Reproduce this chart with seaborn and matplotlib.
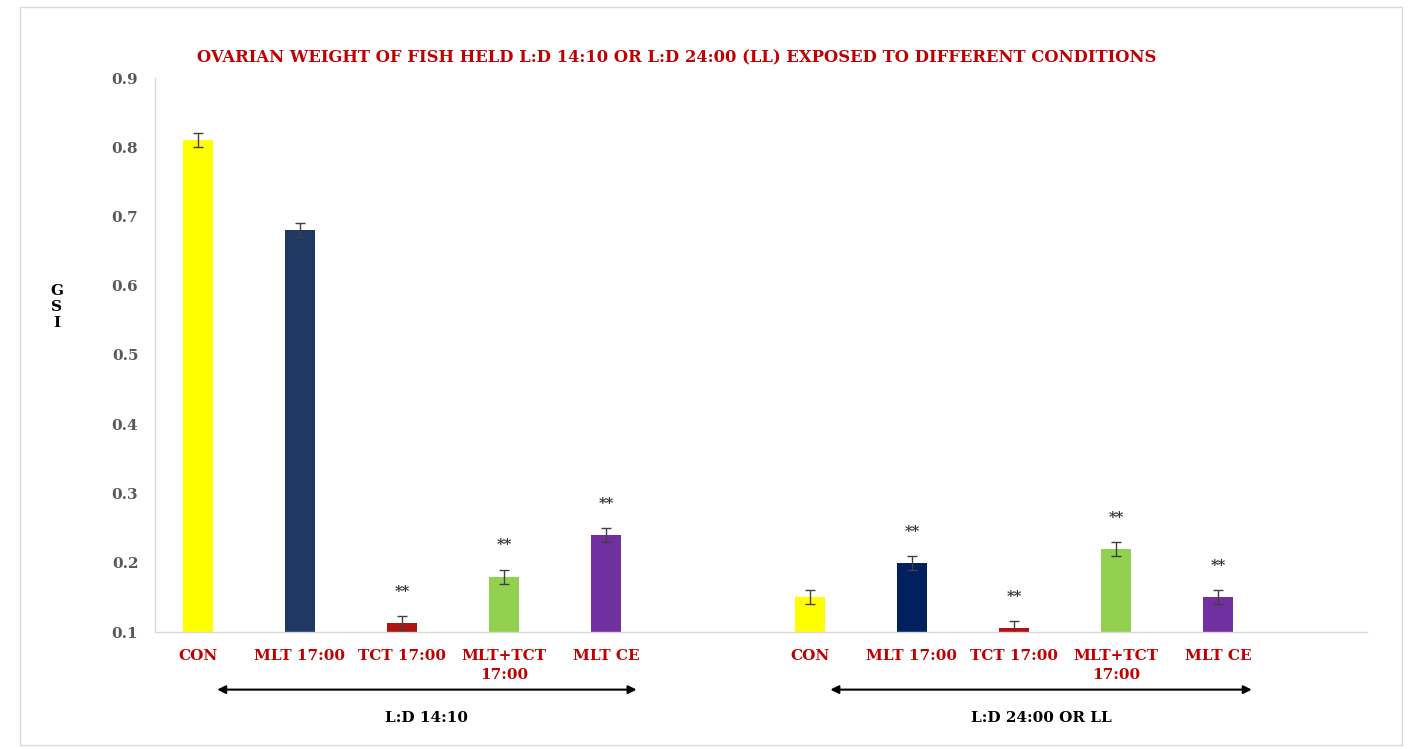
import matplotlib
matplotlib.use("Agg")
import matplotlib.pyplot as plt
from matplotlib.patches import Rectangle
import seaborn as sns
import pandas as pd

# ---- data ----
treatments = ["CON", "MLT 17:00", "TCT 17:00", "MLT+TCT\n17:00", "MLT CE"]
groups = ["L:D 14:10", "L:D 24:00 OR LL"]
gsi_ld1410 = [0.81, 0.68, 0.113, 0.18, 0.24]
err_ld1410 = [0.010, 0.010, 0.010, 0.010, 0.010]
sig_ld1410 = ["", "", "**", "**", "**"]
gsi_ll = [0.15, 0.20, 0.106, 0.22, 0.15]
err_ll = [0.010, 0.010, 0.010, 0.010, 0.010]
sig_ll = ["", "**", "**", "**", "**"]
colors_ld1410 = ["#FFFF00", "#1F3864", "#B01212", "#92D050", "#7030A0"]
colors_ll = ["#FFFF00", "#002060", "#B01212", "#92D050", "#7030A0"]
title = "OVARIAN WEIGHT OF FISH HELD L:D 14:10 OR L:D 24:00 (LL) EXPOSED TO DIFFERENT CONDITIONS"
yticks = [0.1, 0.2, 0.3, 0.4, 0.5, 0.6, 0.7, 0.8, 0.9]

# ---- build table ----
keys_a = [f"a{i}" for i in range(len(treatments))]
keys_b = [f"b{i}" for i in range(len(treatments))]
order = keys_a + ["gap"] + keys_b
df = pd.DataFrame({
    "key": keys_a + keys_b,
    "label": treatments + treatments,
    "gsi": gsi_ld1410 + gsi_ll,
    "err": err_ld1410 + err_ll,
    "sig": sig_ld1410 + sig_ll,
})
palette = dict(zip(keys_a + keys_b, colors_ld1410 + colors_ll))

sns.set_theme(style="white")
plt.rcParams["font.family"] = ["DejaVu Serif"]

fig = plt.figure(figsize=(14.09, 7.49), dpi=100)
ax = fig.add_axes([155 / 1409, 1 - 632 / 749, (1367 - 155) / 1409, (632 - 78) / 749])

sns.barplot(data=df, x="key", y="gsi", hue="key", order=order, hue_order=keys_a + keys_b,
            palette=palette, width=0.3, legend=False, errorbar=None, ax=ax,
            saturation=1, linewidth=0)

pos = {k: i for i, k in enumerate(order)}
xs = [pos[k] for k in df["key"]]
ax.errorbar(xs, df["gsi"], yerr=df["err"], fmt="none", ecolor="#404040",
            elinewidth=1, capsize=3.5, capthick=1, zorder=5)
for x, v, e, s in zip(xs, df["gsi"], df["err"], df["sig"]):
    if s:
        ax.text(x, v + 0.045, s, ha="center", va="center", fontsize=10.5,
                fontweight="bold", color="#333333")

ax.set_ylim(0.1, 0.9)
ax.set_xlim(-0.42, 11.46)
ax.set_yticks(yticks)
ax.set_yticklabels([f"{t:.1f}" for t in yticks], fontsize=11, fontweight="bold", color="#595959")
ax.set_xticks(xs)
ax.set_xticklabels(list(df["label"]), fontsize=11, fontweight="bold", color="#C00000",
                   linespacing=1.5)
ax.tick_params(axis="both", length=0)
ax.tick_params(axis="x", pad=12)
ax.tick_params(axis="y", pad=12)
ax.set_xlabel("")
ax.set_ylabel("")
for side in ["top", "right"]:
    ax.spines[side].set_visible(False)
for side in ["left", "bottom"]:
    ax.spines[side].set_color("#D9D9D9")
    ax.spines[side].set_linewidth(1)

# group arrows and labels
trans = ax.get_xaxis_transform()
arrow_y = -0.104
label_y = -0.155
spans = [(pos[keys_a[0]] + 0.19, pos[keys_a[-1]] + 0.30), (pos[keys_b[0]] + 0.20, pos[keys_b[-1]] + 0.33)]
for (x0, x1), g in zip(spans, groups):
    ax.annotate("", xy=(x1, arrow_y), xytext=(x0, arrow_y), xycoords=trans, textcoords=trans,
                arrowprops=dict(arrowstyle="<|-|>", color="black", lw=1.5,
                                mutation_scale=12, shrinkA=0, shrinkB=0),
                annotation_clip=False)
    ax.text((x0 + x1) / 2, label_y, g, transform=trans, ha="center", va="center",
            fontsize=11, fontweight="bold", color="black")

fig.text(677 / 1409, 1 - 58 / 749, title, ha="center", va="center", fontsize=11.8,
         fontweight="bold", color="#C00000")
fig.text(57 / 1409, 1 - 307 / 749, "G\nS\nI", ha="center", va="center", fontsize=11,
         fontweight="bold", color="black", linespacing=1.15)

fig.patches.append(Rectangle((20 / 1409, 1 - 745 / 749), (1402 - 20) / 1409, (745 - 7) / 749,
                             transform=fig.transFigure, fill=False, edgecolor="#D9D9D9",
                             linewidth=1))

fig.savefig("out.png", dpi=100)
